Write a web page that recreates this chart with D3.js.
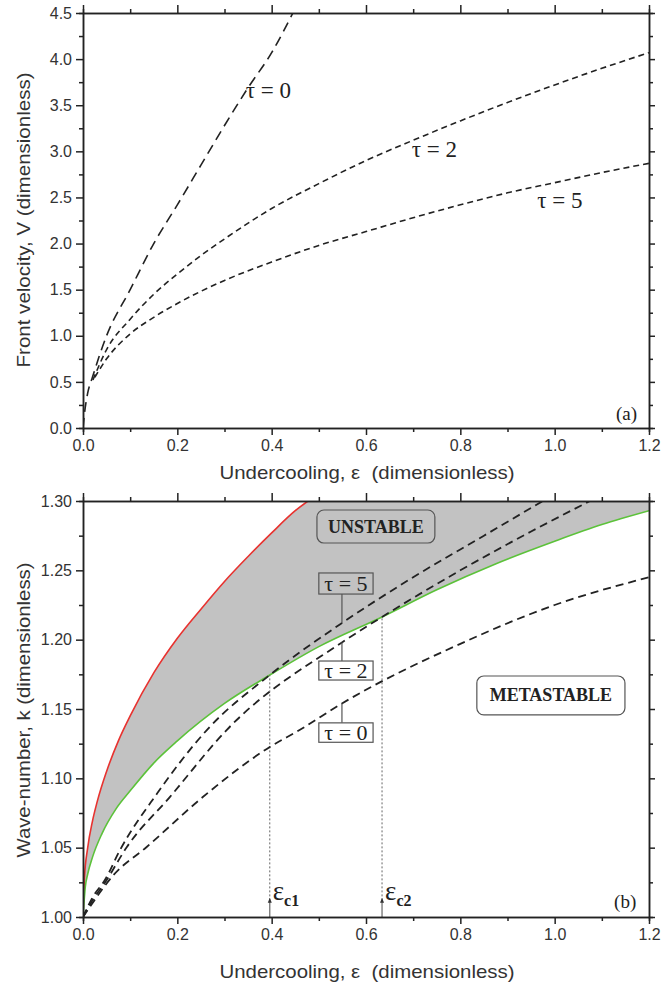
<!DOCTYPE html>
<html lang="en">
<head>
<meta charset="UTF-8">
<script src="https://cdn.jsdelivr.net/npm/d3@7"></script>
<style>
  body { margin: 0; background: #fff; }
  svg { display: block; }
  .axis text { font-family: "Liberation Sans", Arial, sans-serif; font-size: 16px; fill: #333; }
  .axis path, .axis line { stroke: #222; stroke-width: 1.5; }
  .title { font-family: "Liberation Sans", Arial, sans-serif; font-size: 19px; fill: #333; white-space: pre; }
  .serif { font-family: "Liberation Serif", "Times New Roman", serif; fill: #222; }
</style>
</head>
<body>
<script>
// shared x ticks
const xMajor = [0, 0.2, 0.4, 0.6, 0.8, 1.0, 1.2];
const xMinor = [0.1, 0.3, 0.5, 0.7, 0.9, 1.1];

// panel (a): front velocity
const vMajor = [0, 0.5, 1.0, 1.5, 2.0, 2.5, 3.0, 3.5, 4.0, 4.5];
const vMinor = [0.25, 0.75, 1.25, 1.75, 2.25, 2.75, 3.25, 3.75, 4.25];

const tau0Eps = [0, 0.003, 0.01, 0.02, 0.05, 0.1, 0.15, 0.2, 0.25, 0.3, 0.35, 0.4, 0.445];
const tau0V   = [0, 0.15, 0.38, 0.55, 1.0, 1.5, 2.0, 2.42, 2.85, 3.28, 3.69, 4.07, 4.5];

const tau2Eps = [0.021, 0.05, 0.1, 0.15, 0.2, 0.25, 0.3, 0.4, 0.5, 0.6, 0.7, 0.8, 0.9, 1.0, 1.1, 1.2];
const tau2V   = [0.52, 0.85, 1.18, 1.45, 1.67, 1.87, 2.05, 2.38, 2.65, 2.9, 3.12, 3.33, 3.53, 3.72, 3.9, 4.07];

const tau5Eps = [0.025, 0.05, 0.1, 0.15, 0.2, 0.3, 0.4, 0.5, 0.6, 0.7, 0.8, 0.9, 1.0, 1.1, 1.2];
const tau5V   = [0.55, 0.75, 1.02, 1.2, 1.35, 1.6, 1.8, 1.98, 2.13, 2.28, 2.42, 2.55, 2.66, 2.77, 2.87];

// panel (b): wave-number
const kMajor = [1.00, 1.05, 1.10, 1.15, 1.20, 1.25, 1.30];
const kMinor = [1.025, 1.075, 1.125, 1.175, 1.225, 1.275];

const redEps = [0, 0.003, 0.01, 0.02, 0.03, 0.05, 0.075, 0.1, 0.15, 0.2, 0.25, 0.3, 0.35, 0.4, 0.45, 0.477];
const redK   = [1.0, 1.028, 1.050, 1.069, 1.083, 1.105, 1.127, 1.145, 1.176, 1.201, 1.222, 1.242, 1.26, 1.277, 1.293, 1.30];

const greenEps = [0, 0.005, 0.01, 0.02, 0.04, 0.07, 0.1, 0.15, 0.2, 0.3, 0.396, 0.5, 0.634, 0.75, 0.877, 1.0, 1.1, 1.2];
const greenK   = [1.0, 1.022, 1.031, 1.043, 1.06, 1.078, 1.091, 1.111, 1.127, 1.154, 1.1745, 1.195, 1.2164, 1.236, 1.255, 1.271, 1.283, 1.293];

const kTau5Eps = [0, 0.02, 0.047, 0.078, 0.157, 0.263, 0.396, 0.549, 0.7, 0.85, 0.975];
const kTau5K   = [1.0, 1.014, 1.027, 1.048, 1.089, 1.135, 1.1745, 1.212, 1.245, 1.275, 1.30];

const kTau2Eps = [0, 0.02, 0.047, 0.093, 0.184, 0.305, 0.549, 0.634, 0.8, 0.95, 1.075];
const kTau2K   = [1.0, 1.012, 1.025, 1.0505, 1.0865, 1.135, 1.198, 1.2164, 1.25, 1.278, 1.30];

const kTau0Eps = [0, 0.02, 0.064, 0.135, 0.254, 0.396, 0.46, 0.549, 0.8, 1.0, 1.2];
const kTau0K   = [1.0, 1.01, 1.03, 1.0505, 1.0865, 1.1226, 1.135, 1.154, 1.197, 1.225, 1.245];

// critical undercoolings
const epsCrit = [0.396, 0.634];
const epsCritK = [1.1745, 1.2164];
const epsCritNames = ["c1", "c2"];

const W = 661, H = 988;
const svg = d3.select("body").append("svg").attr("width", W).attr("height", H);

const x = d3.scaleLinear().domain([0, 1.2]).range([83, 649]);
const yV = d3.scaleLinear().domain([0, 4.5]).range([428, 13]);
const yK = d3.scaleLinear().domain([1.0, 1.3]).range([917, 501]);

function zip(a, b) { return a.map((d, i) => [d, b[i]]); }

function drawAxes(g, y, major, minor, fmt, top, bottom, titleY, titleX, yTitleCenter) {
  const x0 = x.range()[0], x1 = x.range()[1];
  // minor ticks
  g.append("g").attr("class", "axis").attr("transform", `translate(0,${bottom})`)
    .call(d3.axisBottom(x).tickValues(xMinor).tickSize(4).tickFormat(""));
  g.append("g").attr("class", "axis").attr("transform", `translate(0,${top})`)
    .call(d3.axisTop(x).tickValues(xMinor).tickSize(4).tickFormat(""));
  g.append("g").attr("class", "axis").attr("transform", `translate(${x0},0)`)
    .call(d3.axisLeft(y).tickValues(minor).tickSize(4).tickFormat(""));
  g.append("g").attr("class", "axis").attr("transform", `translate(${x1},0)`)
    .call(d3.axisRight(y).tickValues(minor).tickSize(4).tickFormat(""));
  // major ticks
  g.append("g").attr("class", "axis").attr("transform", `translate(0,${bottom})`)
    .call(d3.axisBottom(x).tickValues(xMajor).tickSize(7).tickSizeOuter(0).tickPadding(5).tickFormat(d3.format(".1f")));
  g.append("g").attr("class", "axis").attr("transform", `translate(0,${top})`)
    .call(d3.axisTop(x).tickValues(xMajor).tickSize(8).tickSizeOuter(0).tickFormat(""));
  g.append("g").attr("class", "axis").attr("transform", `translate(${x0},0)`)
    .call(d3.axisLeft(y).tickValues(major).tickSize(7).tickSizeOuter(0).tickPadding(4).tickFormat(d3.format(fmt)));
  g.append("g").attr("class", "axis").attr("transform", `translate(${x1},0)`)
    .call(d3.axisRight(y).tickValues(major).tickSize(6).tickSizeOuter(0).tickFormat(""));

  g.append("text").attr("class", "title")
    .attr("x", 367).attr("y", titleY).attr("text-anchor", "middle")
    .attr("textLength", 295).attr("lengthAdjust", "spacingAndGlyphs")
    .text("Undercooling, ε  (dimensionless)");
  g.append("text").attr("class", "title")
    .attr("transform", `translate(30,${yTitleCenter}) rotate(-90)`)
    .attr("text-anchor", "middle")
    .attr("textLength", 295).attr("lengthAdjust", "spacingAndGlyphs")
    .text(titleX);
}

const lineGen = (y) => d3.line().x(d => x(d[0])).y(d => y(d[1])).curve(d3.curveMonotoneX);

// ---------- panel (a) ----------
const ga = svg.append("g");
ga.append("clipPath").attr("id", "clipA").append("rect")
  .attr("x", 83).attr("y", 13).attr("width", 566).attr("height", 415);

const topSeries = [
  { pts: zip(tau0Eps, tau0V), dash: "10,6" },
  { pts: zip(tau2Eps, tau2V), dash: "6,4" },
  { pts: zip(tau5Eps, tau5V), dash: "6,4" }
];
ga.append("g").attr("clip-path", "url(#clipA)")
  .selectAll("path").data(topSeries).join("path")
  .attr("d", d => lineGen(yV)(d.pts))
  .attr("fill", "none").attr("stroke", "#222").attr("stroke-width", 1.6)
  .attr("stroke-dasharray", d => d.dash);

const topLabels = [
  { t: "τ = 0", e: 0.345, v: 3.58 },
  { t: "τ = 2", e: 0.697, v: 2.94 },
  { t: "τ = 5", e: 0.963, v: 2.39 }
];
ga.selectAll("text.tl").data(topLabels).join("text")
  .attr("class", "tl serif").attr("font-size", 23)
  .attr("x", d => x(d.e)).attr("y", d => yV(d.v))
  .text(d => d.t);

ga.append("text").attr("class", "serif").attr("font-size", 19)
  .attr("x", x(1.13)).attr("y", yV(0.09)).text("(a)");

drawAxes(ga, yV, vMajor, vMinor, ".1f", 13, 428, 479, "Front velocity, V (dimensionless)", 220);

// ---------- panel (b) ----------
const gb = svg.append("g");
gb.append("clipPath").attr("id", "clipB").append("rect")
  .attr("x", 83).attr("y", 501).attr("width", 566).attr("height", 416);

const redPts = zip(redEps, redK);
const greenPts = zip(greenEps, greenK);
const lk = lineGen(yK);
const clipB = gb.append("g").attr("clip-path", "url(#clipB)");

// gray unstable band: everything above the green curve, then cleared above the red curve
clipB.append("path")
  .attr("d", d3.area().x(d => x(d[0])).y0(yK(1.3)).y1(d => yK(d[1])).curve(d3.curveMonotoneX)(greenPts))
  .attr("fill", "#c2c2c2");
clipB.append("path")
  .attr("d", d3.area().x(d => x(d[0])).y0(yK(1.3)).y1(d => yK(d[1])).curve(d3.curveMonotoneX)(redPts))
  .attr("fill", "#fff");

clipB.append("path").attr("d", lk(redPts)).attr("fill", "none").attr("stroke", "#e8322f").attr("stroke-width", 1.6);
clipB.append("path").attr("d", lk(greenPts)).attr("fill", "none").attr("stroke", "#5cc23a").attr("stroke-width", 1.6);

// critical undercooling markers
epsCrit.forEach((e, i) => {
  clipB.append("line").attr("x1", x(e)).attr("x2", x(e))
    .attr("y1", yK(1.012)).attr("y2", yK(epsCritK[i]))
    .attr("stroke", "#666").attr("stroke-width", 1).attr("stroke-dasharray", "2,2");
  clipB.append("line").attr("x1", x(e)).attr("x2", x(e))
    .attr("y1", yK(1.0)).attr("y2", yK(1.011))
    .attr("stroke", "#666").attr("stroke-width", 1.2);
  clipB.append("path")
    .attr("d", `M${x(e) - 2},${yK(1.011) + 1}L${x(e)},${yK(1.011) - 4}L${x(e) + 2},${yK(1.011) + 1}Z`)
    .attr("fill", "#333");
  const lab = gb.append("text").attr("class", "serif")
    .attr("x", x(e) + 3).attr("y", yK(1.012));
  lab.append("tspan").attr("font-size", 27).text("ε");
  lab.append("tspan").attr("font-size", 16).attr("font-weight", "bold").attr("dy", 6).text(epsCritNames[i]);
});

const botSeries = [
  { pts: zip(kTau5Eps, kTau5K) },
  { pts: zip(kTau2Eps, kTau2K) },
  { pts: zip(kTau0Eps, kTau0K) }
];
clipB.append("g").selectAll("path").data(botSeries).join("path")
  .attr("d", d => lk(d.pts))
  .attr("fill", "none").attr("stroke", "#222").attr("stroke-width", 1.8)
  .attr("stroke-dasharray", "8,5");

// region labels
const regions = [
  { t: "UNSTABLE", e0: 0.496, e1: 0.746, k0: 1.2697, k1: 1.2935, fill: "#c2c2c2" },
  { t: "METASTABLE", e0: 0.835, e1: 1.149, k0: 1.1457, k1: 1.1738, fill: "#fff" }
];
const rg = gb.selectAll("g.region").data(regions).join("g").attr("class", "region");
rg.append("rect")
  .attr("x", d => x(d.e0)).attr("y", d => yK(d.k1))
  .attr("width", d => x(d.e1) - x(d.e0)).attr("height", d => yK(d.k0) - yK(d.k1))
  .attr("rx", 7).attr("fill", d => d.fill).attr("stroke", "#555").attr("stroke-width", 1.2);
rg.append("text").attr("class", "serif").attr("font-size", 18).attr("font-weight", "bold")
  .attr("text-anchor", "middle")
  .attr("x", d => (x(d.e0) + x(d.e1)) / 2).attr("y", d => (yK(d.k0) + yK(d.k1)) / 2 + 6)
  .text(d => d.t);

// tau boxes with leader lines
const tauBoxes = [
  { t: "τ = 5", k0: 1.2329, k1: 1.2481, kCurve: 1.212, fill: "none" },
  { t: "τ = 2", k0: 1.1709, k1: 1.1846, kCurve: 1.198, fill: "#fff" },
  { t: "τ = 0", k0: 1.126, k1: 1.140, kCurve: 1.154, fill: "#fff" }
];
const bx0 = 0.50, bx1 = 0.615, bxc = 0.549;
const tb = gb.selectAll("g.taub").data(tauBoxes).join("g").attr("class", "taub");
tb.append("line")
  .attr("x1", x(bxc)).attr("x2", x(bxc))
  .attr("y1", d => d.kCurve < d.k0 ? yK(d.k0) : yK(d.k1))
  .attr("y2", d => yK(d.kCurve))
  .attr("stroke", "#555").attr("stroke-width", 1.2);
tb.append("rect")
  .attr("x", x(bx0)).attr("y", d => yK(d.k1))
  .attr("width", x(bx1) - x(bx0)).attr("height", d => yK(d.k0) - yK(d.k1))
  .attr("fill", d => d.fill).attr("stroke", "#555").attr("stroke-width", 1.2);
tb.append("text").attr("class", "serif").attr("font-size", 22)
  .attr("text-anchor", "middle")
  .attr("x", (x(bx0) + x(bx1)) / 2).attr("y", d => (yK(d.k0) + yK(d.k1)) / 2 + 7)
  .text(d => d.t);

gb.append("text").attr("class", "serif").attr("font-size", 19)
  .attr("x", x(1.126)).attr("y", yK(1.0065)).text("(b)");

drawAxes(gb, yK, kMajor, kMinor, ".2f", 501, 917, 978, "Wave-number, k (dimensionless)", 710);
</script>
</body>
</html>
